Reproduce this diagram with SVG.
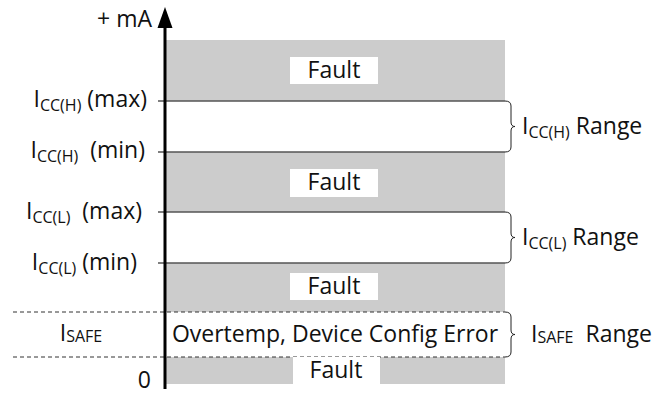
<svg xmlns="http://www.w3.org/2000/svg" width="665" height="395" viewBox="0 0 665 395">
<style>
text{font-family:"Open Sans","Noto Sans",sans-serif;font-size:23px;fill:#111;white-space:pre}
.sub{font-size:16px}
.band{fill:#cccccc}
.wb{fill:#ffffff}
.sl{stroke:#555;stroke-width:1.5;fill:none}
.dl{stroke:#333;stroke-width:1;stroke-dasharray:4 3;fill:none}
.br{stroke:#222;stroke-width:1;fill:none}
</style>
<g id="background">
<rect class="band" x="166" y="40" width="339" height="344"/>
<rect class="wb" x="166" y="101" width="339" height="51"/>
<rect class="wb" x="166" y="212" width="339" height="51"/>
<rect class="wb" x="166" y="312" width="339" height="45"/>
</g>
<g id="connectors">
<line class="sl" x1="158" y1="101" x2="505" y2="101"/>
<line class="sl" x1="158" y1="152" x2="505" y2="152"/>
<line class="sl" x1="158" y1="212" x2="505" y2="212"/>
<line class="sl" x1="158" y1="263" x2="505" y2="263"/>
<line class="dl" x1="13" y1="312" x2="505" y2="312"/>
<line class="dl" x1="13" y1="357" x2="505" y2="357"/>
<path class="br" d="M505,101 Q511,101 511,106 L511,122 Q511,126.5 515,126.5 Q511,126.5 511,131 L511,147 Q511,152 505,152"/>
<path class="br" d="M505,212 Q511,212 511,217 L511,233 Q511,237.5 515,237.5 Q511,237.5 511,242 L511,258 Q511,263 505,263"/>
<path class="br" d="M505,312 Q511,312 511,317 L511,330 Q511,334.5 515,334.5 Q511,334.5 511,339 L511,352 Q511,357 505,357"/>
</g>
<g id="axis">
<line x1="165" y1="389" x2="165" y2="26" stroke="#000" stroke-width="3"/>
<polygon points="157.5,28 172.5,28 165,7" fill="#000"/>
<text x="152" y="27" text-anchor="end">+ mA</text>
<text x="151" y="388" text-anchor="end">0</text>
</g>
<g id="fault1">
<rect class="wb" x="290" y="57" width="88" height="27"/>
<text x="334" y="78" text-anchor="middle">Fault</text>
</g>
<g id="fault2">
<rect class="wb" x="290" y="169" width="88" height="28"/>
<text x="334" y="190" text-anchor="middle">Fault</text>
</g>
<g id="fault3">
<rect class="wb" x="290" y="273" width="88" height="27"/>
<text x="334" y="294" text-anchor="middle">Fault</text>
</g>
<g id="fault4">
<rect class="wb" x="293" y="357" width="87" height="27"/>
<text x="336" y="378" text-anchor="middle">Fault</text>
</g>
<g id="isafe-band">
<text x="335" y="342" text-anchor="middle">Overtemp, Device Config Error</text>
</g>
<g id="left-labels">
<text x="147" y="107" text-anchor="end">I<tspan class="sub" dy="4">CC(H)</tspan><tspan dy="-4"> (max)</tspan></text>
<text x="145" y="158" text-anchor="end">I<tspan class="sub" dy="4">CC(H)</tspan><tspan dy="-4">  (min)</tspan></text>
<text x="142" y="219" text-anchor="end">I<tspan class="sub" dy="4">CC(L)</tspan><tspan dy="-4">  (max)</tspan></text>
<text x="137" y="270" text-anchor="end">I<tspan class="sub" dy="4">CC(L)</tspan><tspan dy="-4"> (min)</tspan></text>
<text x="81" y="341" text-anchor="middle">I<tspan class="sub" dy="1">SAFE</tspan></text>
</g>
<g id="right-labels">
<text x="522" y="134">I<tspan class="sub" dy="4">CC(H)</tspan><tspan dy="-4"> Range</tspan></text>
<text x="522" y="245">I<tspan class="sub" dy="4">CC(L)</tspan><tspan dy="-4"> Range</tspan></text>
<text x="531" y="342">I<tspan class="sub" dy="1">SAFE</tspan><tspan dy="-1">  Range</tspan></text>
</g>
</svg>
